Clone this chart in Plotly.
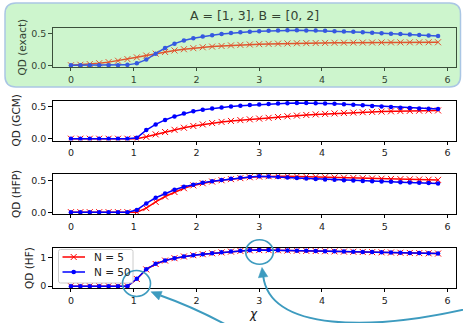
import plotly.graph_objects as go

# ---------------- data ----------------
chi = [0.00, 0.15, 0.30, 0.45, 0.60, 0.75, 0.90, 1.05, 1.20, 1.35,
       1.50, 1.65, 1.80, 1.95, 2.10, 2.25, 2.40, 2.55, 2.70, 2.85,
       3.00, 3.15, 3.30, 3.45, 3.60, 3.75, 3.90, 4.05, 4.20, 4.35,
       4.50, 4.65, 4.80, 4.95, 5.10, 5.25, 5.40, 5.55, 5.70, 5.85]

exact_n5 = [0.000, 0.008, 0.018, 0.032, 0.050, 0.072, 0.098, 0.126, 0.155, 0.185,
            0.212, 0.236, 0.256, 0.273, 0.287, 0.298, 0.308, 0.317, 0.325, 0.331,
            0.337, 0.341, 0.345, 0.348, 0.351, 0.353, 0.355, 0.357, 0.359, 0.360,
            0.361, 0.362, 0.363, 0.364, 0.365, 0.365, 0.366, 0.366, 0.367, 0.367]
exact_n50 = [0.000, 0.000, 0.000, 0.000, 0.000, 0.001, 0.006, 0.030, 0.090, 0.185,
             0.275, 0.345, 0.395, 0.430, 0.458, 0.480, 0.498, 0.515, 0.527, 0.537,
             0.545, 0.551, 0.555, 0.558, 0.558, 0.557, 0.554, 0.550, 0.545, 0.540,
             0.534, 0.527, 0.520, 0.512, 0.505, 0.498, 0.490, 0.483, 0.476, 0.469]

gcm_n5 = [0.000, 0.000, 0.000, 0.000, 0.000, 0.000, 0.000, 0.000, 0.030, 0.068,
          0.105, 0.140, 0.172, 0.200, 0.225, 0.246, 0.264, 0.279, 0.292, 0.304,
          0.316, 0.328, 0.340, 0.352, 0.363, 0.373, 0.382, 0.390, 0.397, 0.404,
          0.410, 0.416, 0.421, 0.426, 0.430, 0.434, 0.437, 0.440, 0.442, 0.444]
gcm_n50 = [0.000, 0.000, 0.000, 0.000, 0.000, 0.000, 0.000, 0.015, 0.135, 0.225,
           0.295, 0.350, 0.395, 0.430, 0.455, 0.475, 0.490, 0.505, 0.518, 0.528,
           0.537, 0.545, 0.552, 0.557, 0.560, 0.560, 0.557, 0.553, 0.548, 0.541,
           0.533, 0.524, 0.514, 0.505, 0.496, 0.488, 0.481, 0.475, 0.470, 0.466]

hfp_n5 = [0.000, 0.000, 0.000, 0.000, 0.000, 0.000, 0.000, 0.000, 0.065, 0.165,
          0.250, 0.322, 0.383, 0.428, 0.462, 0.489, 0.510, 0.528, 0.544, 0.558,
          0.568, 0.574, 0.575, 0.574, 0.571, 0.567, 0.563, 0.559, 0.555, 0.551,
          0.547, 0.543, 0.539, 0.535, 0.531, 0.528, 0.525, 0.522, 0.519, 0.516]
hfp_n50 = [0.000, 0.000, 0.000, 0.000, 0.000, 0.000, 0.000, 0.035, 0.140, 0.230,
           0.300, 0.358, 0.405, 0.440, 0.470, 0.495, 0.515, 0.533, 0.550, 0.563,
           0.573, 0.570, 0.562, 0.553, 0.545, 0.538, 0.531, 0.524, 0.518, 0.512,
           0.506, 0.500, 0.495, 0.490, 0.485, 0.480, 0.475, 0.470, 0.465, 0.460]

hf_n5 = [0.000, 0.000, 0.000, 0.000, 0.000, 0.000, 0.000, 0.250, 0.585, 0.775,
         0.895, 0.978, 1.038, 1.083, 1.118, 1.150, 1.180, 1.208, 1.233, 1.252,
         1.262, 1.260, 1.254, 1.247, 1.241, 1.235, 1.229, 1.222, 1.216, 1.209,
         1.203, 1.196, 1.189, 1.183, 1.176, 1.169, 1.162, 1.155, 1.148, 1.141]
hf_n50 = [0.000, 0.000, 0.000, 0.000, 0.000, 0.000, 0.000, 0.258, 0.592, 0.780,
          0.900, 0.980, 1.040, 1.085, 1.120, 1.152, 1.182, 1.210, 1.235, 1.254,
          1.265, 1.262, 1.256, 1.249, 1.243, 1.237, 1.231, 1.224, 1.218, 1.211,
          1.205, 1.198, 1.191, 1.185, 1.178, 1.171, 1.164, 1.157, 1.150, 1.143]

panel_labels = ["QD (exact)", "QD (GCM)", "QD (HFP)", "QD (HF)"]
legend_names = ["N = 5", "N = 50"]
title_text = "A = [1, 3], B = [0, 2]"
x_ticks = [0, 1, 2, 3, 4, 5, 6]
y_ticks = [[0.0, 0.5], [0.0, 0.5], [0.0, 0.5], [0, 1]]

# ---------------- layout helpers (pixel -> paper) ----------------
W, H = 463, 323
def px(x):
    return x / W
def py(y):
    return 1 - y / H
def P(x, y):
    return f"{px(x):.5f},{py(y):.5f}"

FONT = "DejaVu Sans"
panels = [(28.0, 67.0), (100.5, 140.5), (174.0, 214.0), (248.0, 288.0)]
y_ranges = [[-0.028, 0.595], [-0.028, 0.60], [-0.029, 0.61], [-0.065, 1.335]]
series = [(exact_n5, exact_n50), (gcm_n5, gcm_n50), (hfp_n5, hfp_n50), (hf_n5, hf_n50)]
RED, BLUE = "#ff0000", "#0000ff"

fig = go.Figure()
for i, (s5, s50) in enumerate(series):
    k = "" if i == 0 else str(i + 1)
    if i == 0:
        red, blue = "#e0552e", "#3558e0"
    else:
        red, blue = RED, BLUE
    fig.add_trace(go.Scatter(
        x=chi, y=s5, mode="lines+markers", name=legend_names[0],
        line=dict(color=red, width=1.5),
        marker=dict(symbol="x-thin", size=6, line=dict(color=red, width=1)),
        xaxis="x" + k, yaxis="y" + k, showlegend=False))
    fig.add_trace(go.Scatter(
        x=chi, y=s50, mode="lines+markers", name=legend_names[1],
        line=dict(color=blue, width=1.5),
        marker=dict(symbol="circle", size=4.5, color=blue),
        xaxis="x" + k, yaxis="y" + k, showlegend=False))

layout = dict(
    width=W, height=H,
    margin=dict(l=0, r=0, t=0, b=0, autoexpand=False),
    paper_bgcolor="white", plot_bgcolor="white",
    font=dict(family=FONT, size=10, color="#222"),
    showlegend=False,
)

for i, (top, bot) in enumerate(panels):
    k = "" if i == 0 else str(i + 1)
    ax_col = "#3a4f3a" if i == 0 else "#000000"
    tk_col = "#334433" if i == 0 else "#222222"
    common = dict(showline=True, linecolor=ax_col, linewidth=0.9, mirror=True,
                  ticks="outside", ticklen=3.5, tickwidth=0.9, tickcolor=ax_col,
                  showgrid=False, zeroline=False, automargin=False,
                  tickfont=dict(family=FONT, size=9.5, color=tk_col))
    layout["xaxis" + k] = dict(common, domain=[px(52.6), px(456.4)],
                               anchor="y" + k, range=[-0.2925, 6.1425],
                               tickvals=x_ticks)
    layout["yaxis" + k] = dict(common, domain=[py(bot), py(top)],
                               anchor="x" + k, range=y_ranges[i],
                               tickvals=y_ticks[i],
                               tickformat=".1f" if i < 3 else "d")

fig.update_layout(**layout)

# ---------------- annotations (texts) ----------------
label_pos = [(21, 47.5), (16, 120.5), (16, 194), (29, 268)]
for i, (lx, ly) in enumerate(label_pos):
    fig.add_annotation(x=px(lx), y=py(ly), xref="paper", yref="paper",
                       text=panel_labels[i], textangle=-90, showarrow=False,
                       xanchor="center", yanchor="middle",
                       font=dict(family=FONT, size=10.5,
                                 color="#334433" if i == 0 else "#222"))
fig.add_annotation(x=px(254), y=py(15.5), xref="paper", yref="paper",
                   text=title_text, showarrow=False, xanchor="center",
                   yanchor="middle",
                   font=dict(family=FONT, size=12.5, color="#334433"))
fig.add_annotation(x=px(253), y=py(314), xref="paper", yref="paper",
                   text="<i>χ</i>", showarrow=False, xanchor="center",
                   yanchor="middle", font=dict(family=FONT, size=12, color="#222"))

# ---------------- shapes ----------------
def rounded_rect(x0, y0, x1, y1, r):
    return (f"M {P(x0 + r, y0)} L {P(x1 - r, y0)} Q {P(x1, y0)} {P(x1, y0 + r)} "
            f"L {P(x1, y1 - r)} Q {P(x1, y1)} {P(x1 - r, y1)} "
            f"L {P(x0 + r, y1)} Q {P(x0, y1)} {P(x0, y1 - r)} "
            f"L {P(x0, y0 + r)} Q {P(x0, y0)} {P(x0 + r, y0)} Z")

fig.add_shape(type="path", xref="paper", yref="paper", layer="below",
              path=rounded_rect(5, 3, 460.5, 87, 11),
              fillcolor="#cdf5cd", line=dict(color="#aac6e4", width=1.5))

# ---- legend box (matplotlib style, upper left of the HF panel) ----
fig.add_shape(type="path", xref="paper", yref="paper", layer="above",
              path=rounded_rect(58.5, 249.5, 133, 283, 2),
              fillcolor="rgba(255,255,255,0.8)", line=dict(color="#cccccc", width=1))
leg_rows = [(257, RED), (272, BLUE)]
for j, (ly, col) in enumerate(leg_rows):
    fig.add_shape(type="line", xref="paper", yref="paper", layer="above",
                  x0=px(62.5), x1=px(85), y0=py(ly), y1=py(ly),
                  line=dict(color=col, width=1.5))
    if j == 0:
        for d in (1, -1):
            fig.add_shape(type="line", xref="paper", yref="paper", layer="above",
                          x0=px(73.7 - 3), x1=px(73.7 + 3),
                          y0=py(ly - 3 * d), y1=py(ly + 3 * d),
                          line=dict(color=col, width=1))
    else:
        fig.add_shape(type="circle", xref="paper", yref="paper", layer="above",
                      x0=px(73.7 - 2.3), x1=px(73.7 + 2.3),
                      y0=py(ly + 2.3), y1=py(ly - 2.3),
                      fillcolor=col, line=dict(color=col, width=0))
    fig.add_annotation(x=px(91.5), y=py(ly), xref="paper", yref="paper",
                       text=legend_names[j], showarrow=False, xanchor="left",
                       yanchor="middle",
                       font=dict(family=FONT, size=10.5, color="#222"))

teal = "#3d9bbf"
for (cx, cy, rx, ry) in [(136.5, 283.5, 14, 13), (259.5, 252, 13.8, 12.2)]:
    fig.add_shape(type="circle", xref="paper", yref="paper", layer="above",
                  x0=px(cx - rx), x1=px(cx + rx), y0=py(cy + ry), y1=py(cy - ry),
                  line=dict(color=teal, width=1.6), fillcolor="rgba(0,0,0,0)")

# arrow 1 (nearly straight)
fig.add_shape(type="path", xref="paper", yref="paper", layer="above",
              path=f"M {P(232, 328)} Q {P(196, 308)} {P(160.5, 295.5)}",
              line=dict(color=teal, width=2))
fig.add_shape(type="path", xref="paper", yref="paper", layer="above",
              path=f"M {P(151, 291.8)} L {P(158.8, 300.0)} L {P(162.2, 291.4)} Z",
              fillcolor=teal, line=dict(color=teal, width=0.5))

# arrow 2 (curved, dipping below bottom edge)
fig.add_shape(type="path", xref="paper", yref="paper", layer="above",
              path=f"M {P(475, 307)} C {P(370, 332)} {P(270, 331)} {P(263.2, 276)}",
              line=dict(color=teal, width=2))
fig.add_shape(type="path", xref="paper", yref="paper", layer="above",
              path=f"M {P(262, 267.5)} L {P(267.8, 276.6)} L {P(258.4, 277.8)} Z",
              fillcolor=teal, line=dict(color=teal, width=0.5))

fig.write_html("out.html",
               config={"displayModeBar": False},
               post_script="document.body.style.margin='0';"
                           "document.body.style.overflow='hidden';")
